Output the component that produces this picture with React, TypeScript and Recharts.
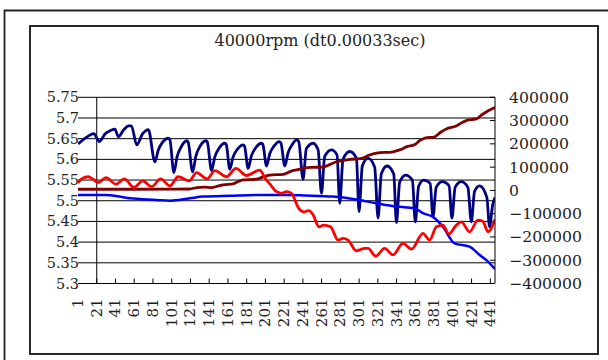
import React from 'react';
import { LineChart, Line, XAxis, YAxis, CartesianGrid, ReferenceLine } from 'recharts';

const TITLE = '40000rpm (dt0.00033sec)';
const xTicks = [1, 21, 41, 61, 81, 101, 121, 141, 161, 181, 201, 221, 241, 261, 281, 301, 321, 341, 361, 381, 401, 421, 441];
const leftTicks = [5.3, 5.35, 5.4, 5.45, 5.5, 5.55, 5.6, 5.65, 5.7, 5.75];
const rightTicks = [-400000, -300000, -200000, -100000, 0, 100000, 200000, 300000, 400000];

// [category, value]
const navyPoints: [number, number][] = [
  [1, 5.637], [8, 5.65], [14, 5.659], [18, 5.662], [23.7, 5.643], [30, 5.662], [36, 5.67], [40.4, 5.673],
  [44, 5.655], [50, 5.672], [55, 5.681], [58, 5.681], [63.6, 5.635], [70, 5.662], [76, 5.672], [83.1, 5.594],
  [86.6, 5.622], [91.1, 5.641], [97.3, 5.651], [99, 5.648], [103.3, 5.568],
  [106.8, 5.607], [111.3, 5.631], [116.9, 5.645], [118.5, 5.642], [123.3, 5.57],
  [126.8, 5.608], [131.3, 5.632], [137.5, 5.645], [139, 5.642], [143.5, 5.573],
  [147, 5.606], [151.5, 5.627], [157.7, 5.639], [159.2, 5.636], [163, 5.576],
  [166.5, 5.606], [171, 5.624], [177.2, 5.635], [178.7, 5.632], [182.6, 5.578],
  [186.1, 5.609], [190.6, 5.628], [196.8, 5.639], [198.3, 5.636], [202.2, 5.584],
  [205.7, 5.614], [210.2, 5.632], [215.6, 5.643], [217.5, 5.64], [221.7, 5.584],
  [225.2, 5.616], [229.7, 5.636], [234.2, 5.647], [236.5, 5.643], [241.2, 5.552],
  [244.7, 5.626], [251.9, 5.639], [257.2, 5.623], [260.8, 5.518],
  [264.3, 5.607], [271.5, 5.623], [277.4, 5.611], [280.3, 5.494],
  [283.8, 5.6], [291, 5.619], [298.1, 5.603], [300.9, 5.474],
  [304.4, 5.584], [310.5, 5.603], [317.6, 5.581], [321.2, 5.458],
  [324.7, 5.565], [330.7, 5.584], [337.9, 5.565], [340.8, 5.447],
  [344.3, 5.545], [350.7, 5.562], [357.8, 5.55], [361, 5.449],
  [364.5, 5.535], [369.9, 5.55], [376.8, 5.542], [379.8, 5.461],
  [383.3, 5.533], [389.8, 5.546], [397, 5.536], [400, 5.458],
  [403.5, 5.533], [410.1, 5.546], [417.1, 5.532], [420.7, 5.449],
  [424.2, 5.523], [429.6, 5.536], [437.3, 5.508], [440.2, 5.437],
  [443.5, 5.49], [446, 5.508],
];

const redPoints: [number, number][] = [
  [1, 5.543], [5, 5.553], [12, 5.558], [17, 5.552], [22.6, 5.544], [30.9, 5.556], [41.5, 5.54], [50.4, 5.553],
  [60.7, 5.532], [70, 5.548], [79.6, 5.534], [89.2, 5.553], [99.1, 5.536], [107.9, 5.558], [119.7, 5.548],
  [127.5, 5.568], [138.8, 5.553], [147.1, 5.573], [159.5, 5.558], [169.4, 5.578], [180.9, 5.561], [195, 5.574],
  [201, 5.553], [206, 5.54], [212, 5.523], [218, 5.518], [223.5, 5.522], [228.8, 5.518], [236.7, 5.481],
  [242, 5.473], [247.3, 5.476], [251.9, 5.466], [258, 5.437], [263.3, 5.441], [270.5, 5.437], [278.5, 5.405],
  [283.8, 5.409], [289.2, 5.405], [298.1, 5.379], [307, 5.385], [310.5, 5.385], [318.7, 5.366], [328.3, 5.385],
  [337.1, 5.369], [347.8, 5.397], [356.8, 5.383], [369.1, 5.421], [376.3, 5.405], [383.4, 5.437], [390.4, 5.441],
  [396.8, 5.42], [404.7, 5.441], [410.1, 5.449], [418.9, 5.425], [427.8, 5.453], [433, 5.45], [438.5, 5.425],
  [446, 5.455],
];

const bluePoints: [number, number][] = [
  [1, 5.514], [31.6, 5.514], [56.4, 5.506], [84.9, 5.502], [99.1, 5.5], [120.4, 5.506], [134.6, 5.51],
  [163, 5.512], [198.5, 5.514], [227, 5.514], [237.7, 5.513], [273.2, 5.51], [298.1, 5.503], [319.4, 5.494],
  [340.8, 5.486], [360.3, 5.482], [369.1, 5.47], [379.8, 5.461], [390.4, 5.437], [402.9, 5.397], [418.9, 5.389],
  [429.6, 5.369], [438.5, 5.353], [446, 5.335],
];

const maroonPoints: [number, number][] = [
  [1, 5000], [60, 5000], [120, 6000], [128, 12000], [136, 14000], [143.5, 12000], [150, 18000], [156, 24000],
  [166.6, 28000], [172, 38000], [177.2, 45000], [191.5, 48000], [200, 60000], [205.7, 66000], [219.9, 69000],
  [228, 82000], [234.2, 88000], [248.3, 99000], [262.5, 100000], [270, 112000], [276.8, 123000], [291, 133000],
  [303.8, 138000], [312, 152000], [319.4, 160000], [337.1, 166000], [345, 175000], [352, 188000], [360, 196000],
  [366, 215000], [372, 226000], [381, 229000], [388, 250000], [394, 264000], [404.7, 277000], [411, 292000],
  [416, 301000], [426.1, 307000], [432, 325000], [437, 338000], [446, 356000],
];

const toData = (pts: [number, number][]) => pts.map(([x, v]) => ({ x, v }));
const navyData = toData(navyPoints);
const redData = toData(redPoints);
const blueData = toData(bluePoints);
const maroonData = toData(maroonPoints);

const FONT = "'DejaVu Serif', serif";
const TEXT = '#222';

const fmtRight = (v: number) => (v < 0 ? '\u2212' + String(-v) : String(v));

const XTick = (props: any) => {
  const { x, y, payload } = props;
  const v = payload.value;
  return (
    <g>
      {v !== 1 && <line x1={x} x2={x} y1={y} y2={y - 5} stroke="#000" strokeWidth={1} />}
      <text
        transform={`translate(${x},${y + 15}) rotate(-90)`}
        textAnchor="end"
        dominantBaseline="central"
        fontFamily={FONT}
        fontSize={15}
        fill={TEXT}
      >
        {String(v)}
      </text>
    </g>
  );
};

const LeftTick = (props: any) => {
  const { x, y, payload } = props;
  return (
    <text x={x + 1} y={y} textAnchor="end" dominantBaseline="central" fontFamily={FONT} fontSize={14.5} fill={TEXT}>
      {String(payload.value)}
    </text>
  );
};

const RightTick = (props: any) => {
  const { x, y, payload } = props;
  return (
    <g>
      <line x1={x - 5} x2={x} y1={y} y2={y} stroke="#000" strokeWidth={1} />
      <text x={x + 14} y={y} textAnchor="start" dominantBaseline="central" fontFamily={FONT} fontSize={15.7} fill={TEXT}>
        {fmtRight(payload.value)}
      </text>
    </g>
  );
};

export default function App() {
  return (
    <div style={{ position: 'absolute', left: 0, top: 0, width: 608, height: 360, background: '#fff', overflow: 'hidden' }}>
      <div style={{ position: 'absolute', left: 0, top: 0 }}>
        <LineChart width={608} height={360} margin={{ top: 97.3, right: 0, bottom: 0, left: 0 }}>
          <CartesianGrid yAxisId="left" horizontal={true} vertical={false} stroke="#000" strokeWidth={1} />
          <XAxis
            dataKey="x"
            type="number"
            domain={[1, 446]}
            ticks={xTicks}
            interval={0}
            allowDataOverflow
            height={76.5}
            tickSize={0}
            tickMargin={0}
            tickLine={false}
            axisLine={{ stroke: '#000', strokeWidth: 1 }}
            tick={(p: any) => <XTick {...p} />}
          />
          <YAxis
            yAxisId="left"
            domain={[5.3, 5.75]}
            ticks={leftTicks}
            interval={0}
            allowDataOverflow
            width={78}
            tickSize={0}
            tickMargin={0}
            tickLine={false}
            axisLine={false}
            tick={(p: any) => <LeftTick {...p} />}
          />
          <YAxis
            yAxisId="right"
            orientation="right"
            domain={[-400000, 400000]}
            ticks={rightTicks}
            interval={0}
            allowDataOverflow
            width={113}
            tickSize={0}
            tickMargin={0}
            tickLine={false}
            axisLine={{ stroke: '#000', strokeWidth: 1 }}
            tick={(p: any) => <RightTick {...p} />}
          />
          <ReferenceLine x={21} yAxisId="left" stroke="#000" strokeWidth={1} />
          <Line data={navyData} dataKey="v" yAxisId="left" type="monotone" stroke="#000080" strokeWidth={2.8} dot={false} activeDot={false} isAnimationActive={false} />
          <Line data={maroonData} dataKey="v" yAxisId="right" type="monotone" stroke="#800000" strokeWidth={2.8} dot={false} activeDot={false} isAnimationActive={false} />
          <Line data={blueData} dataKey="v" yAxisId="left" type="monotone" stroke="#0000FF" strokeWidth={2.5} dot={false} activeDot={false} isAnimationActive={false} />
          <Line data={redData} dataKey="v" yAxisId="left" type="monotone" stroke="#FF0000" strokeWidth={2.8} dot={false} activeDot={false} isAnimationActive={false} />
        </LineChart>
      </div>
      <svg width={608} height={360} style={{ position: 'absolute', left: 0, top: 0, pointerEvents: 'none' }}>
        <path d="M4.5 362 L4.5 10.5 L612 10.5" fill="none" stroke="#222" strokeWidth={1.8} />
        <rect x={30} y={26} width={568} height={328} fill="none" stroke="#111" strokeWidth={1.8} />
        <text x={320} y={45.5} textAnchor="middle" fontFamily={FONT} fontSize={16} fill={TEXT}>
          {TITLE}
        </text>
      </svg>
    </div>
  );
}
